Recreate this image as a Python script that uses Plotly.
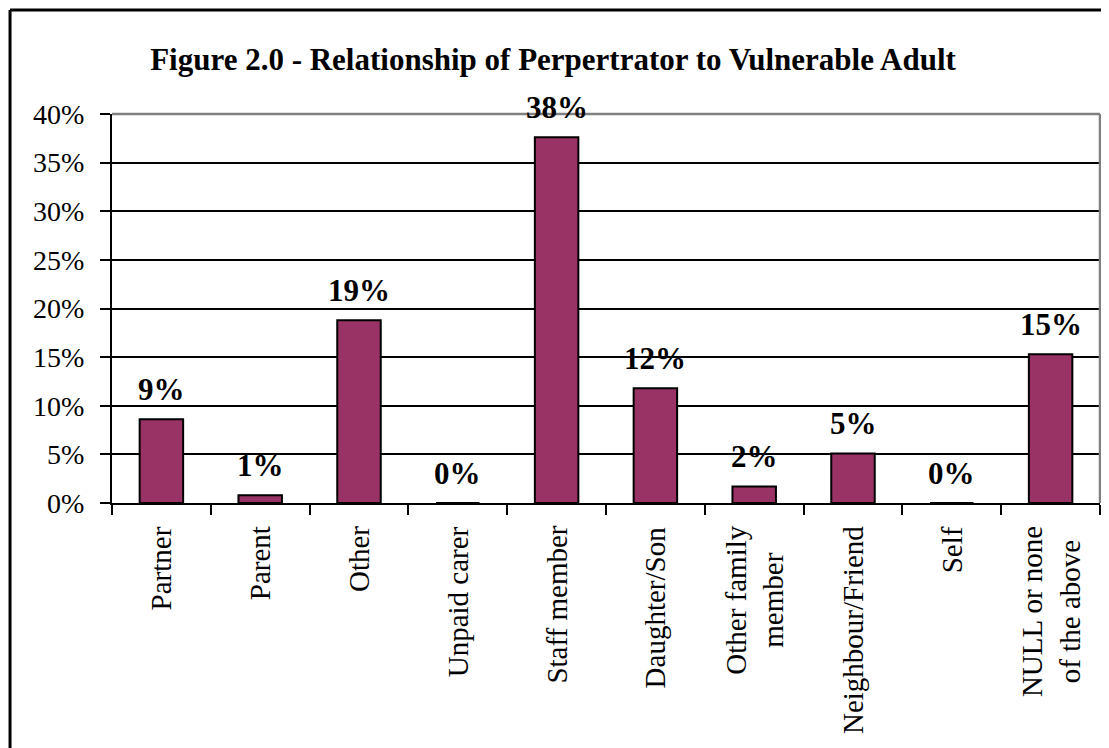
import plotly.graph_objects as go

categories = ["Partner", "Parent", "Other", "Unpaid carer", "Staff member",
              "Daughter/Son", "Other family<br>member", "Neighbour/Friend",
              "Self", "NULL or none<br>of the above"]
values = [8.6, 0.8, 18.8, 0.0, 37.6, 11.8, 1.7, 5.1, 0.0, 15.3]
y_ticks = [0, 5, 10, 15, 20, 25, 30, 35, 40]
y_tick_text = [f"{t}%" for t in y_ticks]
title_text = "Figure 2.0 - Relationship of Perpertrator to Vulnerable Adult"

FONT = "Liberation Serif, Times New Roman, serif"
BAR = "#993366"

fig = go.Figure()
fig.add_trace(go.Bar(
    x=categories, y=values,
    marker=dict(color=BAR, line=dict(color="black", width=2)),
    hoverinfo="skip",
))

ann = []
for c, v in zip(categories, values):
    ann.append(dict(x=c, y=v, xref="x", yref="y", text=f"<b>{round(v)}%</b>",
                    showarrow=False, yanchor="bottom", yshift=10,
                    font=dict(family=FONT, size=31, color="black")))
    ann.append(dict(x=c, y=0, xref="x", yref="paper", text=c, textangle=-90,
                    showarrow=False, yanchor="top", xanchor="center", yshift=-21,
                    align="center",
                    font=dict(family=FONT, size=29, color="black")))

shapes = [
    # outer frame (left and top only visible)
    dict(type="line", xref="paper", yref="paper", x0=-0.1032, x1=-0.1032,
         y0=-0.7, y1=1.2674, line=dict(color="black", width=3)),
    dict(type="line", xref="paper", yref="paper", x0=-0.1032, x1=1.05,
         y0=1.2674, y1=1.2674, line=dict(color="black", width=3)),
    # plot area border top and right (gray)
    dict(type="line", xref="paper", yref="paper", x0=0, x1=1, y0=1, y1=1,
         line=dict(color="#808080", width=2.5), layer="above"),
    dict(type="line", xref="paper", yref="paper", x0=1, x1=1, y0=0, y1=1,
         line=dict(color="#808080", width=2.5), layer="above"),
]

fig.update_layout(
    width=1101, height=740,
    margin=dict(l=104, r=9, t=106, b=245),
    paper_bgcolor="white", plot_bgcolor="white",
    showlegend=False,
    bargap=0.56,
    title=dict(text=f"<b>{title_text}</b>", x=0.495, xanchor="center",
               y=1 - 51 / 740, yanchor="middle", yref="container",
               font=dict(family=FONT, size=31, color="black")),
    annotations=ann,
    shapes=shapes,
    xaxis=dict(
        type="category", showticklabels=False, ticks="outside",
        tickson="boundaries", ticklen=10, tickwidth=2, tickcolor="black",
        showline=True, linecolor="black", linewidth=2,
        showgrid=False, zeroline=False,
    ),
    yaxis=dict(
        range=[0, 40], tickvals=y_ticks, ticktext=y_tick_text,
        ticks="outside", ticklen=10, tickwidth=2, tickcolor="black",
        showline=True, linecolor="black", linewidth=2,
        showgrid=True, gridcolor="black", gridwidth=2,
        zeroline=False, ticklabelstandoff=10,
        tickfont=dict(family=FONT, size=28, color="black"),
    ),
)

fig.write_html("out.html")
